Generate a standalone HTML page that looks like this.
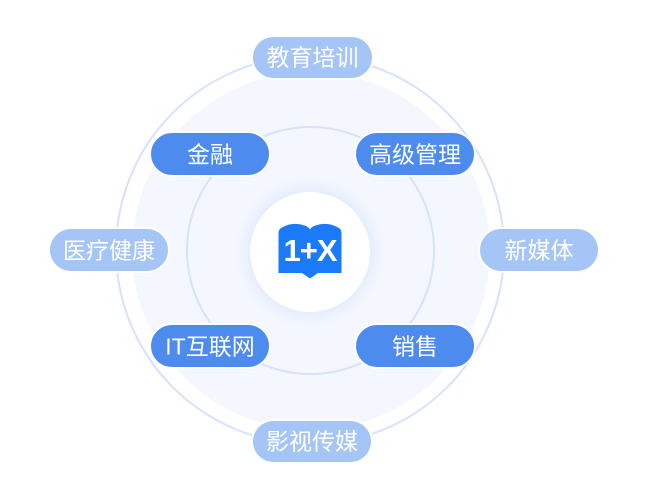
<!DOCTYPE html>
<html>
<head>
<meta charset="utf-8">
<style>
  html, body { margin: 0; padding: 0; background: #ffffff; }
  body { width: 648px; height: 500px; overflow: hidden; }
  svg { display: block; }
  .t { font-family: "Liberation Sans", "Noto Sans CJK SC", sans-serif; font-size: 23px; fill: #ffffff; }
</style>
</head>
<body>
<svg width="648" height="500" viewBox="0 0 648 500" xmlns="http://www.w3.org/2000/svg">
  <defs>
    <radialGradient id="glow" cx="0.5" cy="0.5" r="0.5">
      <stop offset="0.70" stop-color="#dfe9fd" stop-opacity="0.9"/>
      <stop offset="1" stop-color="#f4f8fe" stop-opacity="0"/>
    </radialGradient>
  </defs>

  <!-- light fill circle -->
  <circle cx="311" cy="251" r="179" fill="#f4f8fe"/>

  <!-- outer ring -->
  <circle cx="310" cy="250" r="194" fill="none" stroke="#d5e3fa" stroke-width="2"/>
  <!-- inner ring -->
  <circle cx="310.5" cy="250.5" r="123.5" fill="none" stroke="#d5e3fa" stroke-width="2"/>

  <!-- center glow & white circle -->
  <circle cx="310" cy="252" r="82" fill="url(#glow)"/>
  <circle cx="310" cy="252" r="60" fill="#ffffff"/>

  <!-- book icon -->
  <path d="M278.5,233 Q278.5,229 282,227.5 Q293,221 306,226 Q309,227.5 310,229.5 Q311,227.5 314,226 Q327,221 338,227.5 Q341.5,229 341.5,233 L341.5,273 L318,273 L310,278.5 L302,273 L278.5,273 Z" fill="#1b7af7"/>
  <text x="310" y="261" text-anchor="middle" letter-spacing="-1" style="font-family:'Liberation Sans',sans-serif;font-size:31px;font-weight:bold;fill:#fff;">1+X</text>

  <!-- light pills -->
  <g stroke="#ffffff" stroke-width="2">
    <rect x="252" y="36" width="121" height="43" rx="21.5" fill="#a6c5f7"/>
    <rect x="252" y="420" width="120" height="43" rx="21.5" fill="#a6c5f7"/>
    <rect x="49" y="228" width="120" height="44" rx="22" fill="#a6c5f7"/>
    <rect x="479" y="228" width="120" height="44" rx="22" fill="#a6c5f7"/>
  </g>
  <!-- dark pills -->
  <g stroke="#ffffff" stroke-width="2">
    <rect x="150" y="132" width="120" height="44" rx="22" fill="#4d8bef"/>
    <rect x="355" y="132" width="120" height="44" rx="22" fill="#4d8bef"/>
    <rect x="150" y="324" width="120" height="44" rx="22" fill="#4d8bef"/>
    <rect x="355" y="324" width="120" height="44" rx="22" fill="#4d8bef"/>
  </g>

  <!-- labels -->
  <text class="t" x="312.5" y="65.5" text-anchor="middle">教育培训</text>
  <text class="t" x="312" y="449.5" text-anchor="middle">影视传媒</text>
  <text class="t" x="109" y="258.5" text-anchor="middle">医疗健康</text>
  <text class="t" x="539" y="258.5" text-anchor="middle">新媒体</text>
  <text class="t" x="210" y="162.5" text-anchor="middle">金融</text>
  <text class="t" x="415" y="162.5" text-anchor="middle">高级管理</text>
  <text class="t" x="210" y="354.5" text-anchor="middle">IT互联网</text>
  <text class="t" x="415" y="354.5" text-anchor="middle">销售</text>
</svg>
</body>
</html>
